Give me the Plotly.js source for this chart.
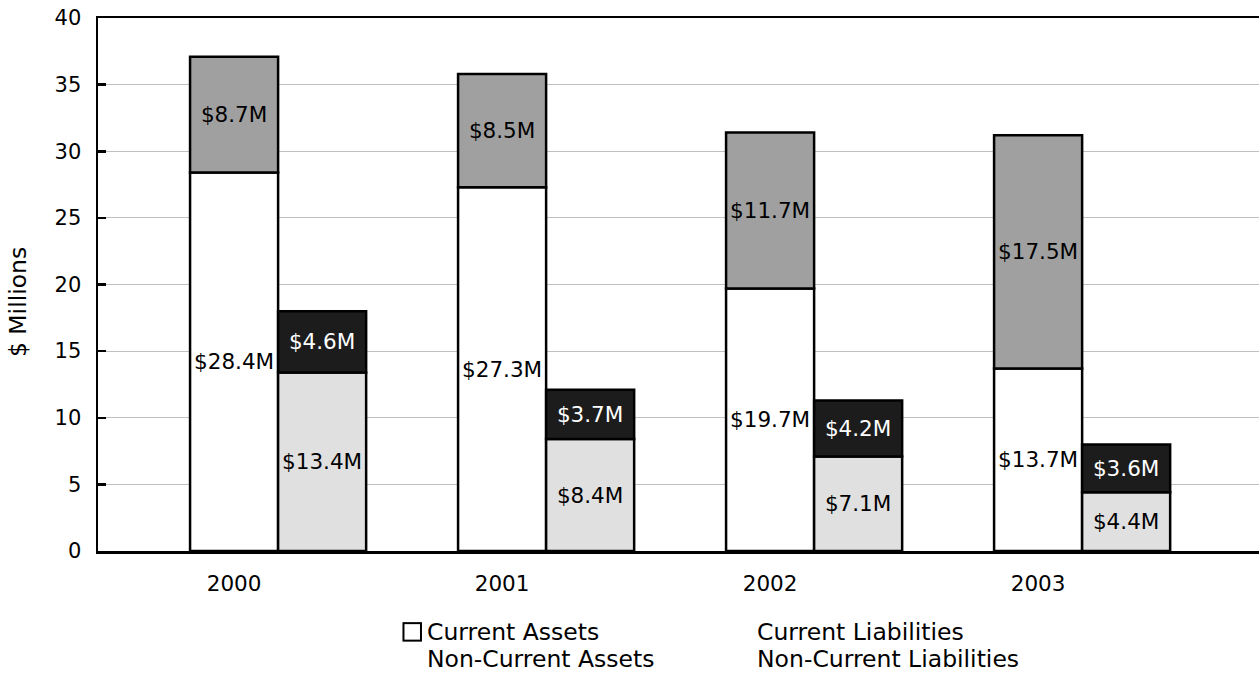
<!DOCTYPE html>
<html>
<head>
<meta charset="utf-8">
<script src="https://cdn.plot.ly/plotly-3.0.1.min.js"></script>
<style>
  html, body { margin: 0; padding: 0; background: #ffffff; }
  #chart { width: 1259px; height: 673px; }
  /* the built-in legend swatches are replaced by larger squares below */
  #chart .legendpoints { opacity: 0; }
</style>
</head>
<body>
<div id="chart"></div>
<script>
// Balance sheet composition, $ millions
const years = ['2000', '2001', '2002', '2003'];
const currentAssets = [28.4, 27.3, 19.7, 13.7];
const nonCurrentAssets = [8.7, 8.5, 11.7, 17.5];
const currentLiabilities = [13.4, 8.4, 7.1, 4.4];
const nonCurrentLiabilities = [4.6, 3.7, 4.2, 3.6];
const yTicks = [0, 5, 10, 15, 20, 25, 30, 35, 40];

const FONT = 'DejaVu Sans, Verdana, sans-serif';
const outline = { color: '#000000', width: 2.5 };

function barTrace(name, values, base, group, fill, textColor, legendId) {
  const t = {
    type: 'bar',
    name: name,
    x: years,
    y: values,
    offsetgroup: group,
    marker: { color: fill, line: outline },
    text: values.map(v => '$' + v.toFixed(1) + 'M'),
    texttemplate: '%{text}',
    textposition: 'inside',
    insidetextanchor: 'middle',
    textangle: 0,
    constraintext: 'none',
    insidetextfont: { family: FONT, size: 21.5, color: textColor },
    hoverinfo: 'skip',
    legend: legendId
  };
  if (base) t.base = base;
  return t;
}

const data = [
  barTrace('Current Assets', currentAssets, null, 'a', '#ffffff', '#000000', 'legend'),
  barTrace('Non-Current Assets', nonCurrentAssets, currentAssets, 'a', '#a0a0a0', '#000000', 'legend3'),
  barTrace('Current Liabilities', currentLiabilities, null, 'b', '#e0e0e0', '#000000', 'legend2'),
  barTrace('Non-Current Liabilities', nonCurrentLiabilities, currentLiabilities, 'b', '#1c1c1c', '#ffffff', 'legend4')
];

// one legend per entry, laid out as a 2x2 grid under the plot
function legendAt(x, y) {
  return {
    orientation: 'v',
    x: x,
    y: y,
    xanchor: 'left',
    yanchor: 'middle',
    font: { family: FONT, size: 23.5, color: '#000000' },
    bgcolor: 'rgba(0,0,0,0)',
    borderwidth: 0,
    itemclick: false,
    itemdoubleclick: false
  };
}

const layout = {
  width: 1259,
  height: 673,
  margin: { l: 98, r: 0, t: 18, b: 122, autoexpand: false },
  paper_bgcolor: '#ffffff',
  plot_bgcolor: '#ffffff',
  font: { family: FONT, size: 21, color: '#000000' },
  barmode: 'group',
  bargap: 0.343,
  bargroupgap: 0,
  showlegend: true,
  legend: legendAt(0.2489, -0.150),
  legend2: legendAt(0.5332, -0.150),
  legend3: legendAt(0.2489, -0.2008),
  legend4: legendAt(0.5332, -0.2008),
  xaxis: {
    type: 'category',
    range: [-0.672, 3.66],
    showline: true,
    linecolor: '#000000',
    linewidth: 2.5,
    mirror: true,
    showgrid: false,
    zeroline: false,
    ticks: '',
    ticklabelshift: -44,
    ticklabelstandoff: 12,
    tickfont: { family: FONT, size: 21.5, color: '#000000' },
    fixedrange: true
  },
  yaxis: {
    range: [0, 40],
    tickvals: yTicks,
    ticktext: yTicks.map(String),
    showline: true,
    linecolor: '#000000',
    linewidth: 2.5,
    showgrid: true,
    gridcolor: '#c0c0c0',
    gridwidth: 1,
    zeroline: false,
    ticks: 'inside',
    ticklen: 8,
    tickwidth: 2.5,
    tickcolor: '#000000',
    ticklabelstandoff: 10,
    tickfont: { family: FONT, size: 21, color: '#000000' },
    automargin: false,
    fixedrange: true
  },
  annotations: [{
    text: '$ Millions',
    xref: 'paper', yref: 'paper',
    x: 0, y: 0.467,
    xanchor: 'center', yanchor: 'middle',
    xshift: -80,
    textangle: -90,
    showarrow: false,
    font: { family: FONT, size: 23.5, color: '#000000' }
  }]
};

const gd = document.getElementById('chart');
const SVGNS = 'http://www.w3.org/2000/svg';
const fillByName = {};
data.forEach(t => { fillByName[t.name] = t.marker.color; });

// Square legend keys, 17.5px, placed just left of each legend label
function drawLegendKeys() {
  const svgs = gd.querySelectorAll('svg.main-svg');
  if (!svgs.length) return;
  const svg = svgs[svgs.length - 1];
  const box = svg.getBoundingClientRect();
  let layer = svg.querySelector('g.legend-keys');
  if (!layer) {
    layer = document.createElementNS(SVGNS, 'g');
    layer.setAttribute('class', 'legend-keys');
    svg.appendChild(layer);
  }
  while (layer.firstChild) layer.removeChild(layer.firstChild);
  const size = 17.5, gap = 6;
  gd.querySelectorAll('text.legendtext').forEach(txt => {
    const name = txt.textContent.trim();
    if (!(name in fillByName)) return;
    const r = txt.getBoundingClientRect();
    if (!r.width) return;
    const cy = (r.top + r.bottom) / 2 - box.top;
    const right = r.left - box.left - gap;
    const rect = document.createElementNS(SVGNS, 'rect');
    rect.setAttribute('x', (right - size).toFixed(2));
    rect.setAttribute('y', (cy - size / 2).toFixed(2));
    rect.setAttribute('width', size);
    rect.setAttribute('height', size);
    rect.setAttribute('fill', fillByName[name]);
    rect.setAttribute('stroke', '#000000');
    rect.setAttribute('stroke-width', 2);
    layer.appendChild(rect);
  });
}

Plotly.newPlot(gd, data, layout, { displayModeBar: false, staticPlot: true })
  .then(() => {
    drawLegendKeys();
    gd.on('plotly_afterplot', drawLegendKeys);
    requestAnimationFrame(drawLegendKeys);
    setTimeout(drawLegendKeys, 50);
    setTimeout(drawLegendKeys, 300);
  });
</script>
</body>
</html>
